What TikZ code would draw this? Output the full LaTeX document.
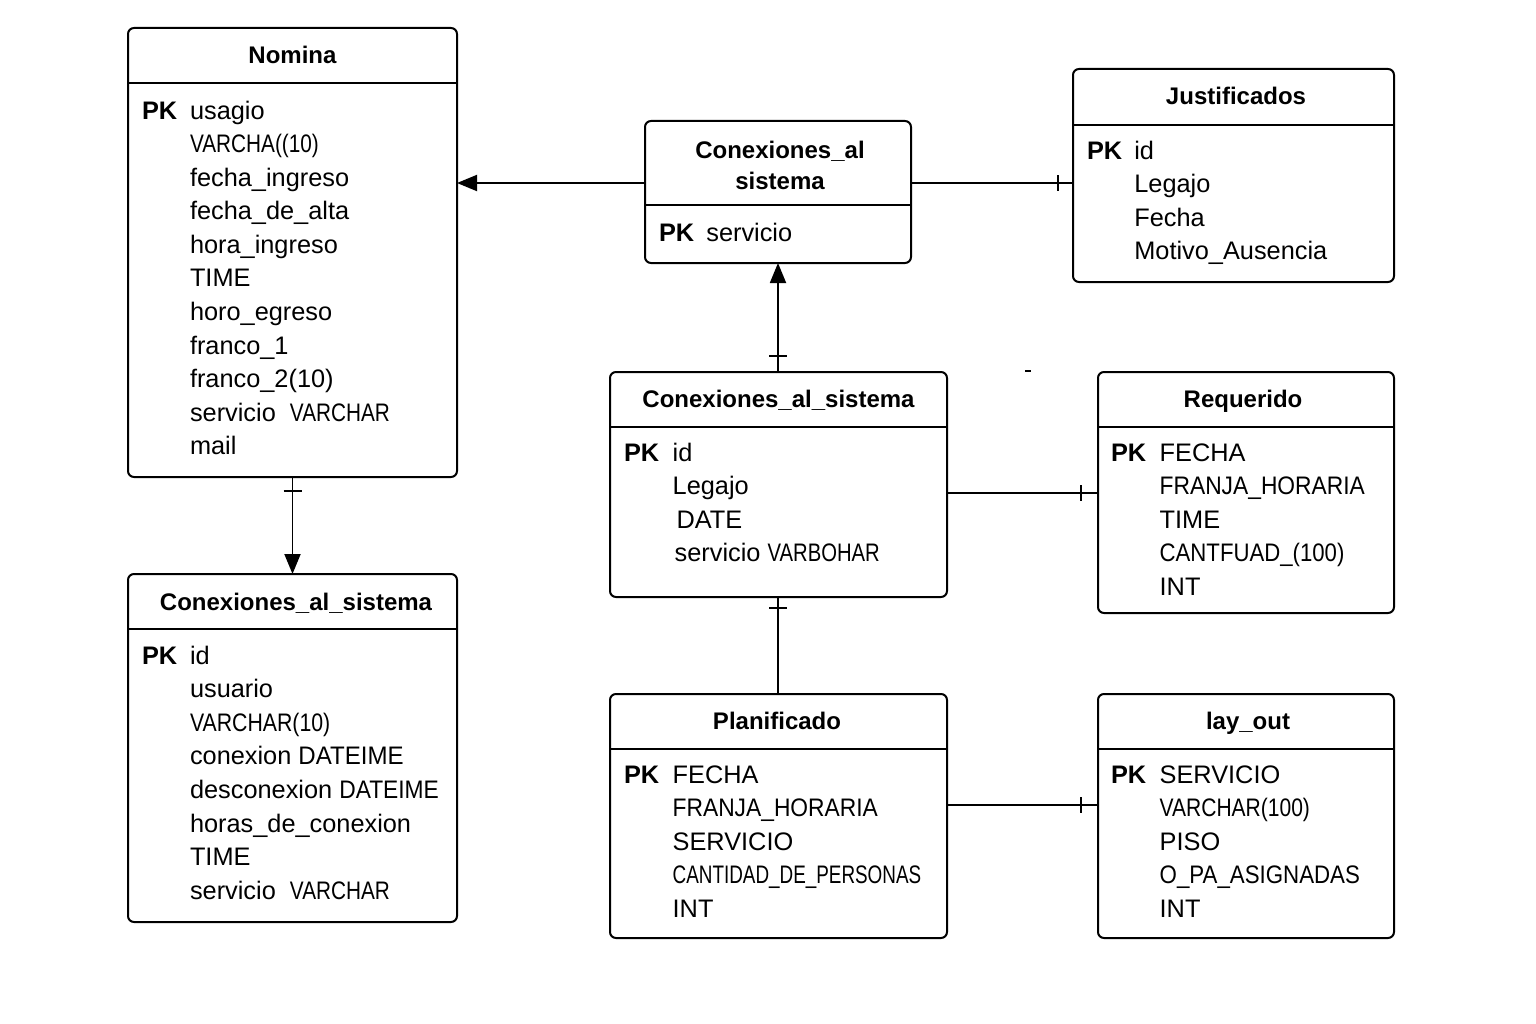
\documentclass[tikz,border=0pt]{standalone}
\usepackage{fontspec}
\setmainfont{Liberation Sans}
\usepackage{graphicx}
\usetikzlibrary{arrows.meta,calc}
\newcommand\sx[2]{\scalebox{#1}[1]{#2}}
\newcommand\ertab[6]{%
  \node[tbox, minimum width={(#4-#2)*0.75pt}, minimum height={(#5-#3)*0.75pt}] (#1) at (#2,#3) {};
  \draw[tline] ($(#1.north west)+(0,#6-#3)$) -- ($(#1.north east)+(0,#6-#3)$);
}
\tikzset{
  tbox/.style={draw, line width=1.5pt, rounded corners=4.5pt, inner sep=0pt, outer sep=0pt, anchor=north west},
  tline/.style={line width=1.5pt},
  ttl/.style={anchor=base, inner sep=0pt, font=\fontsize{18}{22}\selectfont\bfseries},
  body/.style={anchor=base west, inner sep=0pt, outer sep=0pt, font=\fontsize{19}{25.2}\selectfont},
  conn/.style={line width=1.4pt},
  arr/.style={conn, -{Triangle[length=15pt,width=12pt]}},
  tick/.style={line width=1.4pt}
}
\begin{document}
\begin{tikzpicture}[x=0.75pt,y=-0.75pt]
\useasboundingbox[fill=white] (0,0) rectangle (1536,1024);

% ---------- Nomina
\ertab{nom}{128}{28}{457}{477}{83}
\node[ttl] (nomt) at (292.5,64) {Nomina};
\node[body] (nomb) at (142,119) {\begin{tabular}[t]{@{}p{36pt}@{}l@{}}
\textbf{PK} & usagio\\
 & \sx{0.82}{VARCHA((10)}\\
 & fecha\_ingreso\\
 & fecha\_de\_alta\\
 & hora\_ingreso\\
 & TIME\\
 & horo\_egreso\\
 & franco\_1\\
 & franco\_2(10)\\
 & servicio\ \ \sx{0.82}{VARCHAR}\\
 & mail
\end{tabular}};

% ---------- Conexiones_al_sistema (bottom left)
\ertab{cas}{128}{574}{457}{922}{629}
\node[ttl] (cast) at (296,610) {Conexiones\_al\_sistema};
\node[body] (casb) at (142,664) {\begin{tabular}[t]{@{}p{36pt}@{}l@{}}
\textbf{PK} & id\\
 & usuario\\
 & \sx{0.84}{VARCHAR(10)}\\
 & conexion \sx{0.95}{DATEIME}\\
 & desconexion \sx{0.9}{DATEIME}\\
 & horas\_de\_conexion\\
 & TIME\\
 & servicio\ \ \sx{0.82}{VARCHAR}
\end{tabular}};

% ---------- Conexiones_al sistema (top middle)
\ertab{csa}{645}{121}{911}{263}{205}
\node[ttl] (csat1) at (780,158) {Conexiones\_al};
\node[ttl] (csat2) at (780,189) {sistema};
\node[body] (csab) at (659,241) {\begin{tabular}[t]{@{}p{35.5pt}@{}l@{}}
\textbf{PK} & servicio
\end{tabular}};

% ---------- Justificados
\ertab{jus}{1073}{69}{1394}{282}{125}
\node[ttl] (just) at (1236,105) {Justificados};
\node[body] (jusb) at (1087,159) {\begin{tabular}[t]{@{}p{35.5pt}@{}l@{}}
\textbf{PK} & id\\
 & Legajo\\
 & Fecha\\
 & Motivo\_Ausencia
\end{tabular}};

% ---------- Conexiones_al_sistema (middle)
\ertab{mid}{610}{372}{947}{597}{427}
\node[ttl] (midt) at (778.5,407) {Conexiones\_al\_sistema};
\node[body] (midb) at (624,461) {\begin{tabular}[t]{@{}p{36.5pt}@{}l@{}}
\textbf{PK} & id\\
 & Legajo\\
 & \hspace*{3pt}DATE\\
 & \hspace*{1.5pt}servicio \sx{0.8}{VARBOHAR}
\end{tabular}};

% ---------- Requerido
\ertab{req}{1098}{372}{1394}{613}{427}
\node[ttl] (reqt) at (1243,407) {Requerido};
\node[body] (reqb) at (1111,461) {\begin{tabular}[t]{@{}p{36.5pt}@{}l@{}}
\textbf{PK} & FECHA\\
 & \sx{0.9}{FRANJA\_HORARIA}\\
 & TIME\\
 & \sx{0.875}{CANTFUAD\_(100)}\\
 & INT
\end{tabular}};

% ---------- Planificado
\ertab{pla}{610}{694}{947}{938}{749}
\node[ttl] (plat) at (777,729) {Planificado};
\node[body] (plab) at (624,783) {\begin{tabular}[t]{@{}p{36.5pt}@{}l@{}}
\textbf{PK} & FECHA\\
 & \sx{0.9}{FRANJA\_HORARIA}\\
 & SERVICIO\\
 & \sx{0.745}{CANTIDAD\_DE\_PERSONAS}\\
 & INT
\end{tabular}};

% ---------- lay_out
\ertab{lay}{1098}{694}{1394}{938}{749}
\node[ttl] (layt) at (1248,729) {lay\_out};
\node[body] (layb) at (1111,783) {\begin{tabular}[t]{@{}p{36.5pt}@{}l@{}}
\textbf{PK} & SERVICIO\\
 & \sx{0.83}{VARCHAR(100)}\\
 & PISO\\
 & \sx{0.88}{O\_PA\_ASIGNADAS}\\
 & INT
\end{tabular}};

% ---------- connectors
\coordinate (ya) at (0,183);
\coordinate (yb) at (0,493);
\coordinate (yc) at (0,805);

\draw[arr] (csa.west |- ya) -- (nom.east |- ya);
\draw[conn] (csa.east |- ya) -- (jus.west |- ya);
\draw[tick] ($(jus.west |- ya)+(-15,-8)$) -- ++(0,16);

\draw[arr] (mid.north -| csa.south) -- (csa.south);
\draw[tick] ($(mid.north -| csa.south)+(-9,-16)$) -- ++(18,0);

\draw[arr] (nom.south) -- (cas.north -| nom.south);
\draw[tick] ($(nom.south)+(-9,14)$) -- ++(18,0);

\draw[conn] (mid.south -| csa.south) -- (pla.north -| csa.south);
\draw[tick] ($(mid.south -| csa.south)+(-9,11)$) -- ++(18,0);

\draw[conn] (mid.east |- yb) -- (req.west |- yb);
\draw[tick] ($(req.west |- yb)+(-17,-8)$) -- ++(0,16);

\draw[conn] (pla.east |- yc) -- (lay.west |- yc);
\draw[tick] ($(lay.west |- yc)+(-17,-8)$) -- ++(0,16);

% stray mark
\draw[line width=0.8pt] (1025,371) -- (1031,371);
\end{tikzpicture}
\end{document}
